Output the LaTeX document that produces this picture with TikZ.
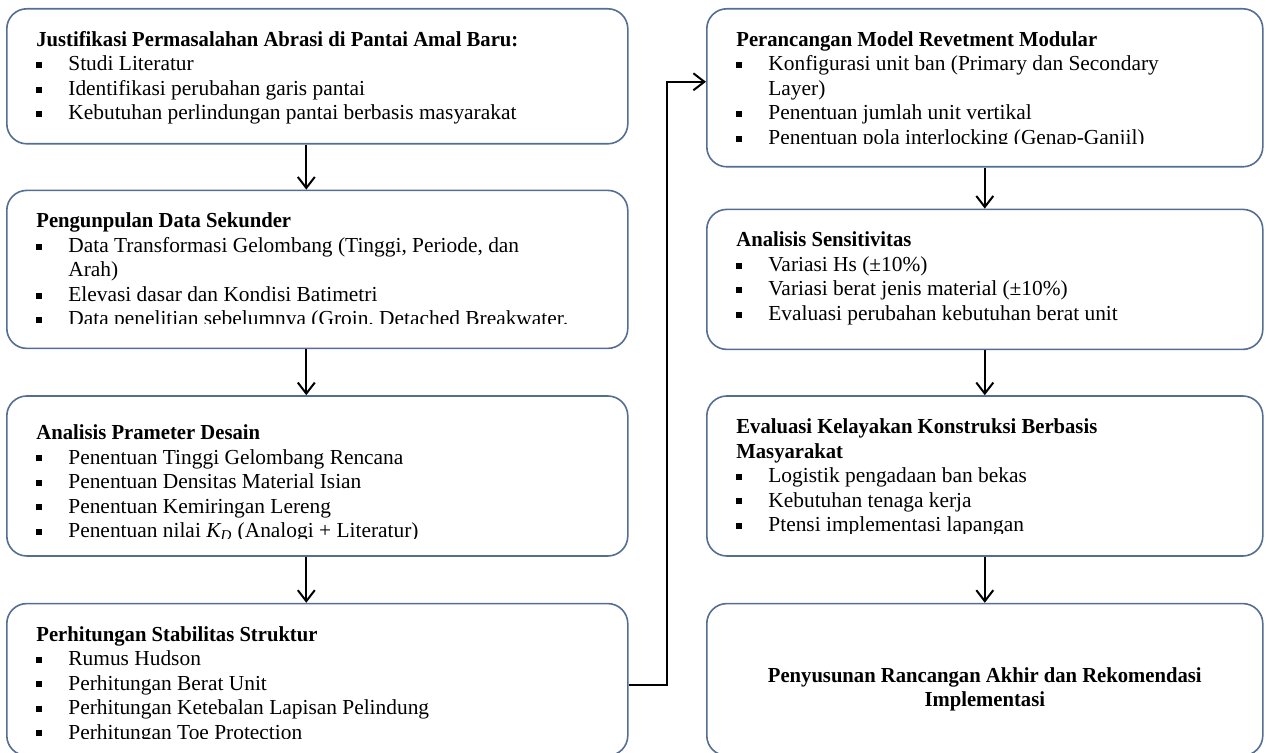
\documentclass[tikz,border=0pt]{standalone}
\usepackage{fontspec}
\setmainfont{Liberation Serif}[BoldFeatures={FakeStretch=0.965}]
\usetikzlibrary{arrows.meta,positioning}

\definecolor{boxline}{RGB}{84,110,145}
\newcommand{\bul}{\makebox[16pt][l]{\rule[1.4pt]{3pt}{3pt}}}
\newcommand{\ind}{\hspace*{16pt}}
\newcommand{\fl}{\rule{0pt}{9pt}}

\begin{document}
\begin{tikzpicture}[x=0.5pt,y=-0.5pt,>={Straight Barb[length=5.5pt,width=8.5pt]}]

      \tikzstyle{panel}=[draw=boxline,line width=0.8pt,rounded corners=10pt,inner sep=0pt]
      \tikzstyle{body}=[inner sep=0pt,align=left,anchor=north west,font=\fontsize{10.7}{12.25}\selectfont]
      \tikzstyle{link}=[->,line width=1pt]

      \useasboundingbox (0,0) rectangle (1266,753);

      % left column
      \node[panel,minimum width=310.5pt,minimum height=67.5pt,anchor=north west] (L1) at (6,8) {};
      \node[panel,minimum width=310.5pt,minimum height=79pt,below=22.5pt of L1] (L2) {};
      \node[panel,minimum width=310.5pt,minimum height=80pt,below=23pt of L2] (L3) {};
      \node[panel,minimum width=310.5pt,minimum height=76pt,below=23pt of L3] (L4) {};

      % right column
      \node[panel,minimum width=278pt,minimum height=79pt,anchor=north west] (R1) at (706,8) {};
      \node[panel,minimum width=278pt,minimum height=70pt,below=20.5pt of R1] (R2) {};
      \node[panel,minimum width=278pt,minimum height=80pt,below=22.5pt of R2] (R3) {};
      \node[panel,minimum width=278pt,minimum height=76pt,below=23pt of R3] (R4) {};

      \node[body] (T1) at ([xshift=15pt,yshift=-10pt]L1.north west) {\fl\textbf{Justifikasi Permasalahan Abrasi di Pantai Amal Baru:}\\
        \bul Studi Literatur\\
        \bul Identifikasi perubahan garis pantai\\
        \bul Kebutuhan perlindungan pantai berbasis masyarakat};

      \begin{scope}
        \clip ([yshift=13pt]L2.south west) rectangle (L2.north east);
        \node[body] (T2) at ([xshift=15pt,yshift=-10pt]L2.north west) {\fl\textbf{Pengunpulan Data Sekunder}\\
          \bul Data Transformasi Gelombang (Tinggi, Periode, dan\\
          \ind Arah)\\
          \bul Elevasi dasar dan Kondisi Batimetri\\
          \bul Data penelitian sebelumnya (Groin, Detached Breakwater,};
      \end{scope}

      \begin{scope}
        \clip ([yshift=9pt]L3.south west) rectangle (L3.north east);
        \node[body] (T3) at ([xshift=15pt,yshift=-13pt]L3.north west) {\fl\textbf{Analisis Prameter Desain}\\
          \bul Penentuan Tinggi Gelombang Rencana\\
          \bul Penentuan Densitas Material Isian\\
          \bul Penentuan Kemiringan Lereng\\
          \bul Penentuan nilai \textit{K\textsubscript{D}} (Analogi + Literatur)};
      \end{scope}

      \begin{scope}
        \clip ([yshift=9pt]L4.south west) rectangle (L4.north east);
        \node[body] (T4) at ([xshift=15pt,yshift=-10pt]L4.north west) {\fl\textbf{Perhitungan Stabilitas Struktur}\\
          \bul Rumus Hudson\\
          \bul Perhitungan Berat Unit\\
          \bul Perhitungan Ketebalan Lapisan Pelindung\\
          \bul Perhitungan Toe Protection};
      \end{scope}

      \begin{scope}
        \clip ([yshift=12pt]R1.south west) rectangle (R1.north east);
        \node[body] (T5) at ([xshift=15pt,yshift=-10pt]R1.north west) {\fl\textbf{Perancangan Model Revetment Modular}\\
          \bul Konfigurasi unit ban (Primary dan Secondary\\
          \ind Layer)\\
          \bul Penentuan jumlah unit vertikal\\
          \bul Penentuan pola interlocking (Genap-Ganjil)};
      \end{scope}

      \node[body] (T6) at ([xshift=15pt,yshift=-10pt]R2.north west) {\fl\textbf{Analisis Sensitivitas}\\
        \bul Variasi Hs (±10\%)\\
        \bul Variasi berat jenis material (±10\%)\\
        \bul Evaluasi perubahan kebutuhan berat unit};

      \begin{scope}
        \clip ([yshift=11.5pt]R3.south west) rectangle (R3.north east);
        \node[body] (T7) at ([xshift=15pt,yshift=-10pt]R3.north west) {\fl\textbf{Evaluasi Kelayakan Konstruksi Berbasis}\\
          \textbf{Masyarakat}\\
          \bul Logistik pengadaan ban bekas\\
          \bul Kebutuhan tenaga kerja\\
          \bul Ptensi implementasi lapangan};
      \end{scope}

      \node[body,anchor=center,align=center] (T8) at ([yshift=-5pt]R4.center) {\textbf{Penyusunan Rancangan Akhir dan Rekomendasi}\\
        \textbf{Implementasi}};

      \draw[link] ([xshift=-5.5pt]L1.south) -- ([xshift=-5.5pt]L2.north);
      \draw[link] ([xshift=-5.5pt]L2.south) -- ([xshift=-5.5pt]L3.north);
      \draw[link] ([xshift=-5.5pt]L3.south) -- ([xshift=-5.5pt]L4.north);
      \draw[link] ([yshift=-2.5pt]L4.east) -- ++(19pt,0) |- ([yshift=3pt]R1.west);
      \draw[link] (R1.south) -- (R2.north);
      \draw[link] (R2.south) -- (R3.north);
      \draw[link] (R3.south) -- (R4.north);
    \end{tikzpicture}
\end{document}
